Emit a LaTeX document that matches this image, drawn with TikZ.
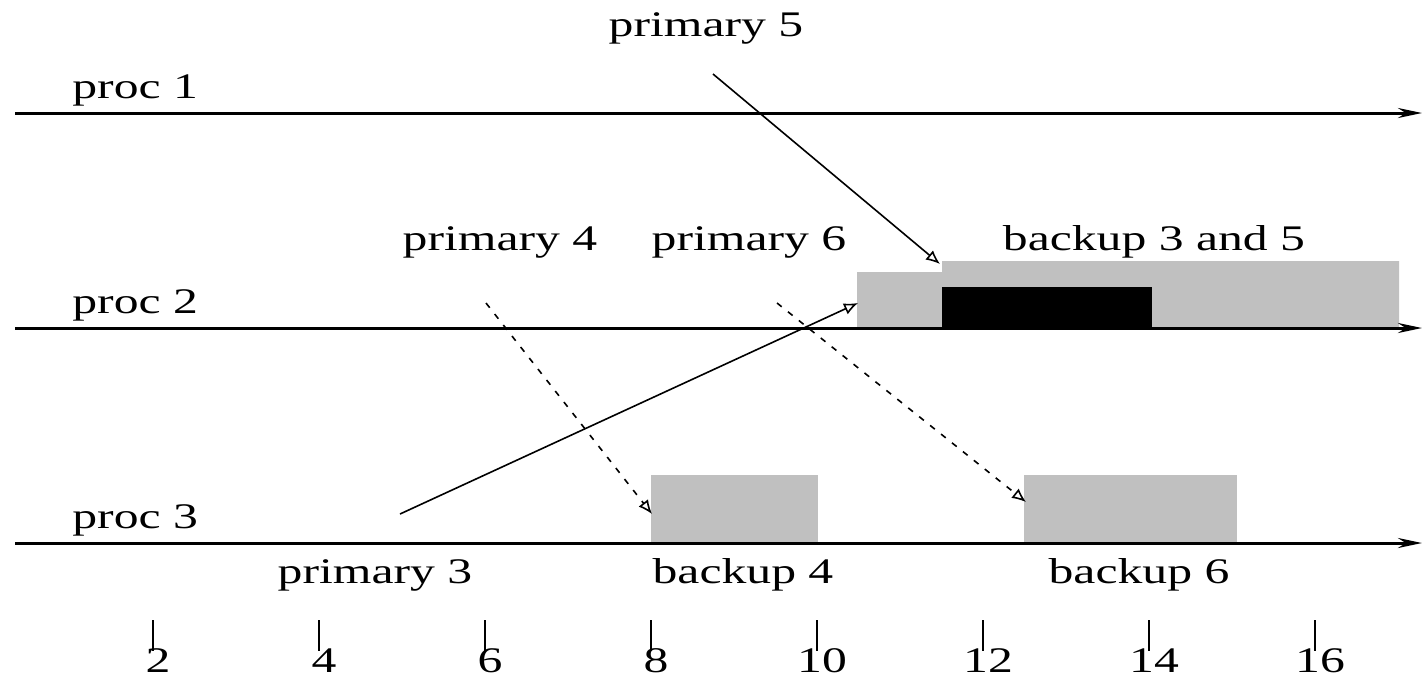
\documentclass[tikz,border=0pt]{standalone}
\usepackage{fontspec}
\setmainfont{Liberation Serif}[FakeStretch=1.38]
\usetikzlibrary{arrows.meta}
\definecolor{boxgray}{RGB}{192,192,192}
\begin{document}
\begin{tikzpicture}[x=0.5pt,y=-0.5pt,
  lbl/.style={font=\fontsize{18pt}{20pt}\selectfont, inner sep=0pt, anchor=base},
  lblw/.style={lbl, anchor=base west},
  num/.style={font=\fontsize{18pt}{20pt}\selectfont, inner sep=0pt, anchor=base},
  timeline/.style={line width=1.5pt, -{Stealth[length=12pt,width=5pt]}},
  tick/.style={line width=1.4pt},
  msg/.style={line width=0.8pt, -{Latex[open,length=7pt,width=6pt]}},
  dmsg/.style={msg, dash pattern=on 3pt off 4pt},
  graybox/.style={fill=boxgray, draw=none},
  blackbox/.style={fill=black, draw=none}]
\useasboundingbox (0,0) rectangle (1424,677);
% boxes
\path[graybox] (857,328) -- (857,272) -- (942,272) -- (942,261) -- (1399,261) -- (1399,328) -- cycle;
\path[blackbox] (942,287) rectangle (1152,328);
\path[graybox] (651,475) rectangle (818,543);
\path[graybox] (1024,475) rectangle (1237,543);
% timelines
\coordinate (l1s) at (15,113); \coordinate (l1e) at (1422,113);
\coordinate (l2s) at (15,328); \coordinate (l2e) at (1422,328);
\coordinate (l3s) at (15,543); \coordinate (l3e) at (1422,543);
\draw[timeline] (l1s) -- (l1e);
\draw[timeline] (l2s) -- (l2e);
\draw[timeline] (l3s) -- (l3e);
% labels
\node[lblw] (p1) at (72,98) {proc 1};
\node[lblw] (p2) at (72,313) {proc 2};
\node[lblw] (p3) at (72,528) {proc 3};
\node[lbl] (pr5) at (706,36) {primary 5};
\node[lbl] (pr4) at (500,250) {primary 4};
\node[lbl] (pr6) at (749,250) {primary 6};
\node[lbl] (b35) at (1154,250) {backup 3 and 5};
\node[lbl] (pr3) at (375,583) {primary 3};
\node[lbl] (b4) at (743,583) {backup 4};
\node[lbl] (b6) at (1139,583) {backup 6};
% messages
\coordinate (m5s) at (713,74); \coordinate (m5e) at (940,264);
\coordinate (m3s) at (400,514); \coordinate (m3e) at (858,303);
\coordinate (m4s) at (486,303); \coordinate (m4e) at (652,514);
\coordinate (m6s) at (777,303); \coordinate (m6e) at (1026,502);
\draw[msg] (m5s) -- (m5e);
\draw[msg] (m3s) -- (m3e);
\draw[dmsg] (m4s) -- (m4e);
\draw[dmsg] (m6s) -- (m6e);
% axis ticks
\foreach \t in {2,4,...,16}{
  \coordinate (tk\t) at ({-13+83*\t},620);
  \coordinate (tb\t) at ({-13+83*\t},651);
  \draw[tick] (tk\t) -- (tb\t);
  \node[num] (n\t) at ({-8+83*\t},672) {\t};
}
\end{tikzpicture}
\end{document}
